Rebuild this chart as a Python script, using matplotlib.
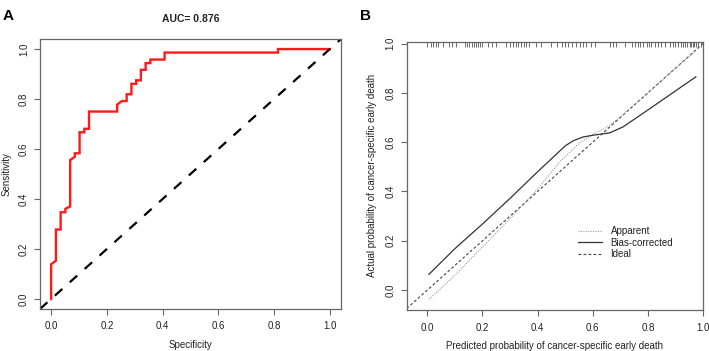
import matplotlib
matplotlib.use("Agg")
import matplotlib.pyplot as plt
import numpy as np
from matplotlib.lines import Line2D

# panel A: ROC curve vertices (1 - specificity, sensitivity)
roc_fpr = [0.0, 0.0, 0.017, 0.017, 0.034, 0.034, 0.051, 0.051, 0.068, 0.068, 0.085, 0.085,
           0.102, 0.102, 0.119, 0.119, 0.136, 0.136, 0.237, 0.237, 0.254, 0.271, 0.271,
           0.288, 0.288, 0.305, 0.305, 0.322, 0.322, 0.339, 0.339, 0.356, 0.356, 0.407,
           0.407, 0.814, 0.814, 1.0]
roc_tpr = [0.0, 0.139, 0.153, 0.278, 0.278, 0.347, 0.347, 0.361, 0.370, 0.556, 0.569, 0.583,
           0.583, 0.667, 0.667, 0.681, 0.681, 0.750, 0.750, 0.778, 0.792, 0.792, 0.819,
           0.819, 0.861, 0.861, 0.875, 0.875, 0.917, 0.917, 0.944, 0.944, 0.958, 0.958,
           0.986, 0.986, 1.0, 1.0]
auc_text = "AUC= 0.876"

# panel B: calibration curves
apparent_x = [0.006, 0.1, 0.2, 0.3, 0.4, 0.48, 0.55, 0.6, 0.65, 0.7, 0.8, 0.9, 0.975]
apparent_y = [-0.038, 0.06, 0.175, 0.29, 0.41, 0.52, 0.595, 0.632, 0.66, 0.702, 0.8, 0.9, 0.972]
bias_x = [0.006, 0.1, 0.2, 0.3, 0.4, 0.445, 0.5, 0.53, 0.565, 0.6, 0.626, 0.662, 0.71, 0.807, 0.974]
bias_y = [0.064, 0.168, 0.268, 0.372, 0.48, 0.527, 0.585, 0.606, 0.621, 0.628, 0.632, 0.638, 0.662, 0.736, 0.865]

# predicted probabilities shown as rug at the top
rug_x = [0.0, 0.012, 0.02, 0.03, 0.038, 0.056, 0.077, 0.089, 0.103, 0.135, 0.143, 0.152,
         0.161, 0.169, 0.178, 0.184, 0.192, 0.2, 0.22, 0.234, 0.25, 0.284, 0.301, 0.31,
         0.322, 0.328, 0.34, 0.349, 0.358, 0.37, 0.394, 0.412, 0.449, 0.469, 0.487, 0.499,
         0.509, 0.523, 0.538, 0.553, 0.565, 0.577, 0.595, 0.608, 0.662, 0.674, 0.683,
         0.717, 0.743, 0.753, 0.763, 0.772, 0.783, 0.795, 0.805, 0.813, 0.825, 0.837,
         0.849, 0.861, 0.879, 0.891, 0.9, 0.909, 0.921, 0.927, 0.933, 0.943, 0.951,
         0.957, 0.963, 0.969, 0.976, 0.982, 0.994]

ticks = [0.0, 0.2, 0.4, 0.6, 0.8, 1.0]
tick_labels = ["0.0", "0.2", "0.4", "0.6", "0.8", "1.0"]

TEXT = "#222222"
FRAME = "#666666"

plt.rcParams.update({
    "font.family": ["Liberation Sans", "DejaVu Sans"],
    "font.size": 7,
    "axes.edgecolor": FRAME,
    "axes.linewidth": 0.9,
    "xtick.color": FRAME,
    "ytick.color": FRAME,
    "xtick.labelcolor": TEXT,
    "ytick.labelcolor": TEXT,
    "xtick.major.size": 4,
    "ytick.major.size": 4,
    "xtick.major.pad": 5,
    "ytick.major.pad": 4,
})


def style_axes(ax):
    ax.set_xticks(ticks, tick_labels)
    ax.set_yticks(ticks, tick_labels)
    for lab in ax.get_yticklabels():
        lab.set_rotation(90)
        lab.set_va("center")


fig = plt.figure(figsize=(7.09, 3.51), dpi=100)

# ---- panel A ----
axA = fig.add_axes([0.0564, 0.1197, 0.4245, 0.769])
axA.plot(roc_fpr, roc_tpr, color="#ff1a1a", lw=1.7, solid_joinstyle="miter")
axA.axline((0, 0), slope=1, color="black", lw=1.6, dashes=(4.5, 4.5))
axA.set_xlim(-0.04, 1.04)
axA.set_ylim(-0.04, 1.04)
style_axes(axA)
axA.set_xlabel("Specificity", color=TEXT, labelpad=6)
axA.set_ylabel("Sensitivity", color=TEXT, labelpad=5)
axA.set_title(auc_text, fontsize=7.5, fontweight="bold", pad=12, color=TEXT)

# ---- panel B ----
axB = fig.add_axes([0.5736, 0.1168, 0.4180, 0.764])
axB.axline((0, 0), slope=1, color="#444444", lw=0.8, dashes=(2.5, 2))
axB.plot(apparent_x, apparent_y, color="#999999", lw=0.8, ls=(0, (1, 1.2)))
axB.plot(bias_x, bias_y, color="#333333", lw=0.9)
axB.vlines(rug_x, 0.987, 1.007, color="#555555", lw=0.6)
axB.set_xlim(-0.075, 1.0)
axB.set_ylim(-0.081, 1.007)
style_axes(axB)
axB.set_xlabel("Predicted probability of cancer-specific early death", color=TEXT, labelpad=6)
axB.set_ylabel("Actual probability of cancer-specific early death", color=TEXT, labelpad=6)

handles = [
    Line2D([], [], color="#999999", lw=0.8, ls=(0, (1, 1.2))),
    Line2D([], [], color="#333333", lw=0.9),
    Line2D([], [], color="#444444", lw=0.8, dashes=(2.5, 2)),
]
axB.legend(handles, ["Apparent", "Bias-corrected", "Ideal"], loc="upper left",
           bbox_to_anchor=(0.55, 0.345), frameon=False, fontsize=7,
           handlelength=2.4, handletextpad=0.9, labelspacing=0.15, labelcolor=TEXT)

fig.text(0.004, 0.955, "A", fontsize=11, fontweight="bold", va="center")
fig.text(0.508, 0.955, "B", fontsize=11, fontweight="bold", va="center")

fig.savefig("out.png", dpi=100)
